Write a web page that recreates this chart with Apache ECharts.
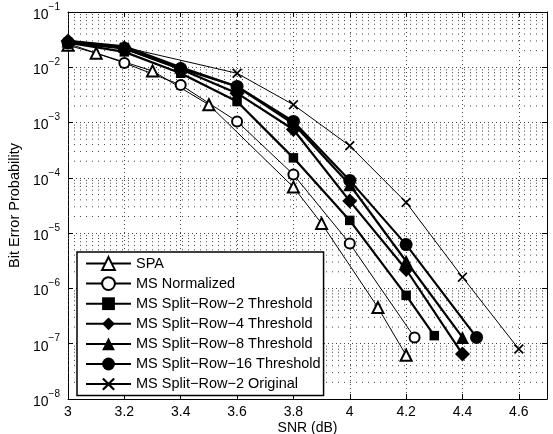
<!DOCTYPE html>
<html>
<head>
<meta charset="utf-8">
<script src="https://cdn.jsdelivr.net/npm/echarts@6/dist/echarts.min.js"></script>
<style>html,body{margin:0;padding:0;background:#fff;}#c{width:553px;height:434px;}</style>
</head>
<body>
<div id="c"></div>
<script>
// ---- data ----
const seriesNames = ['SPA', 'MS Normalized', 'MS Split\u2212Row\u22122 Threshold', 'MS Split\u2212Row\u22124 Threshold',
  'MS Split\u2212Row\u22128 Threshold', 'MS Split\u2212Row\u221216 Threshold', 'MS Split\u2212Row\u22122 Original'];

const snrSPA = [3.0, 3.1, 3.3, 3.5, 3.8, 3.9, 4.1, 4.2];
const berSPA = [0.025, 0.018, 0.0086, 0.0021, 6.8e-5, 1.5e-5, 4.5e-7, 6.2e-8];

const snrNorm = [3.0, 3.2, 3.4, 3.6, 3.8, 4.0, 4.23];
const berNorm = [0.027, 0.012, 0.0048, 0.00105, 1.15e-4, 6.5e-6, 1.3e-7];

const snrSR2T = [3.0, 3.2, 3.4, 3.6, 3.8, 4.0, 4.2, 4.3];
const berSR2T = [0.028, 0.019, 0.0078, 0.0024, 2.3e-4, 1.7e-5, 7.5e-7, 1.4e-7];

const snrSR4T = [3.0, 3.2, 3.4, 3.6, 3.8, 4.0, 4.2, 4.4];
const berSR4T = [0.030, 0.022, 0.0092, 0.0034, 7.5e-4, 3.8e-5, 2.2e-6, 6.5e-8];

const snrSR8T = [3.0, 3.2, 3.4, 3.6, 3.8, 4.0, 4.2, 4.4];
const berSR8T = [0.030, 0.024, 0.010, 0.0045, 9.5e-4, 7.5e-5, 3.1e-6, 1.3e-7];

const snrSR16T = [3.0, 3.2, 3.4, 3.6, 3.8, 4.0, 4.2, 4.45];
const berSR16T = [0.028, 0.022, 0.0095, 0.0045, 1.05e-3, 9.0e-5, 6.2e-6, 1.3e-7];

const snrSR2O = [3.0, 3.2, 3.6, 3.8, 4.0, 4.2, 4.4, 4.6];
const berSR2O = [0.027, 0.023, 0.0078, 0.0021, 3.8e-4, 3.6e-5, 1.6e-6, 8.0e-8];

const xTickMin = 3, xTickMax = 4.7, xTickStep = 0.2;
const yMinExp = -8, yMaxExp = -1;
// ---------------------------------------

const FONT = '"Liberation Sans", Arial, Helvetica, sans-serif';
const pair = (xs, ys) => xs.map((x, i) => [x, ys[i]]);

const xMarker = 'path://M0,1.2 L1.2,0 L5,3.8 L8.8,0 L10,1.2 L6.2,5 L10,8.8 L8.8,10 L5,6.2 L1.2,10 L0,8.8 L3.8,5 Z';

function mk(name, xs, ys, symbol, size, width, filled) {
  return {
    name: name, type: 'line', data: pair(xs, ys),
    symbol: symbol, symbolSize: size, showSymbol: true,
    lineStyle: { color: '#000', width: width },
    itemStyle: filled ? { color: '#000' } : { color: '#000', borderColor: '#000', borderWidth: 1 },
    emphasis: { disabled: true }, animation: false, z: 3
  };
}

const series = [];
// minor log grid lines (2..9 x 10^e), drawn through the axes
for (let e = yMinExp; e < yMaxExp; e++) {
  for (let k = 2; k <= 9; k++) {
    const v = k * Math.pow(10, e);
    series.push({
      type: 'line', silent: true, symbol: 'none', z: 1, animation: false,
      data: [[xTickMin, v], [xTickMax, v]],
      lineStyle: { color: '#444', width: 1, type: [1, 5] },
      emphasis: { disabled: true }, tooltip: { show: false }
    });
  }
}
series.push(
  mk(seriesNames[0], snrSPA, berSPA, 'emptyTriangle', 11, 1, false),
  mk(seriesNames[1], snrNorm, berNorm, 'emptyCircle', 10, 1, false),
  mk(seriesNames[2], snrSR2T, berSR2T, 'rect', 9.5, 2.2, true),
  mk(seriesNames[3], snrSR4T, berSR4T, 'diamond', 15, 2.2, true),
  mk(seriesNames[4], snrSR8T, berSR8T, 'triangle', 13, 2.2, true),
  mk(seriesNames[5], snrSR16T, berSR16T, 'circle', 13, 2.2, true),
  mk(seriesNames[6], snrSR2O, berSR2O, xMarker, 10, 1, true)
);

const chart = echarts.init(document.getElementById('c'), null, { renderer: 'canvas' });
chart.setOption({
  backgroundColor: '#fff',
  animation: false,
  grid: { left: 68, right: 6, top: 12, bottom: 35, containLabel: false, outerBoundsMode: 'none' },
  legend: {
    orient: 'vertical', left: 77, top: 252,
    padding: [4, 3, 4, 8],
    itemWidth: 45, itemHeight: 16, itemGap: 5.1,
    backgroundColor: '#fff', borderColor: '#000', borderWidth: 1.5,
    textStyle: { fontFamily: FONT, fontSize: 14.5, color: '#000' },
    data: seriesNames
  },
  xAxis: [{
    type: 'value', min: xTickMin, max: xTickMax, interval: xTickStep,
    name: 'SNR (dB)', nameLocation: 'middle', nameGap: 22, nameMoveOverlap: false,
    nameTextStyle: { fontFamily: FONT, fontSize: 14, color: '#000', verticalAlign: 'top' },
    axisLine: { lineStyle: { color: '#000', width: 1 } },
    axisTick: { inside: true, length: 5, lineStyle: { color: '#000' } },
    axisLabel: { fontFamily: FONT, fontSize: 14, color: '#000', margin: 6,
      formatter: v => (v > 4.65 ? '' : String(Math.round(v * 10) / 10)) },
    splitLine: { show: true, lineStyle: { color: '#444', width: 1, type: [1, 3] } }
  }, {
    type: 'value', position: 'top', min: xTickMin, max: xTickMax, interval: xTickStep,
    axisLine: { show: true, lineStyle: { color: '#000', width: 1 } },
    axisTick: { show: true, inside: true, length: 5, lineStyle: { color: '#000' } },
    axisLabel: { show: false }, splitLine: { show: false }
  }],
  yAxis: [{
    type: 'log', logBase: 10, min: Math.pow(10, yMinExp), max: Math.pow(10, yMaxExp), interval: 1,
    name: 'Bit Error Probability', nameLocation: 'middle', nameGap: 46, nameMoveOverlap: false,
    nameTextStyle: { fontFamily: FONT, fontSize: 14.5, color: '#000' },
    axisLine: { show: true, lineStyle: { color: '#000', width: 1 } },
    axisTick: { show: true, inside: true, length: 5, lineStyle: { color: '#000' } },
    axisLabel: {
      margin: 8, fontFamily: FONT, color: '#000',
      formatter: v => '{b|10}{s|\u2212' + Math.round(-Math.log10(v)) + '}',
      rich: {
        b: { fontFamily: FONT, fontSize: 14, color: '#000', lineHeight: 20, verticalAlign: 'bottom' },
        s: { fontFamily: FONT, fontSize: 10, color: '#000', lineHeight: 20, verticalAlign: 'top' }
      }
    },
    splitLine: { show: true, lineStyle: { color: '#444', width: 1, type: [1, 3] } }
  }, {
    type: 'log', logBase: 10, position: 'right', min: Math.pow(10, yMinExp), max: Math.pow(10, yMaxExp), interval: 1,
    axisLine: { show: true, lineStyle: { color: '#000', width: 1 } },
    axisTick: { show: true, inside: true, length: 5, lineStyle: { color: '#000' } },
    axisLabel: { show: false }, splitLine: { show: false }
  }],
  series: series
});
</script>
</body>
</html>
